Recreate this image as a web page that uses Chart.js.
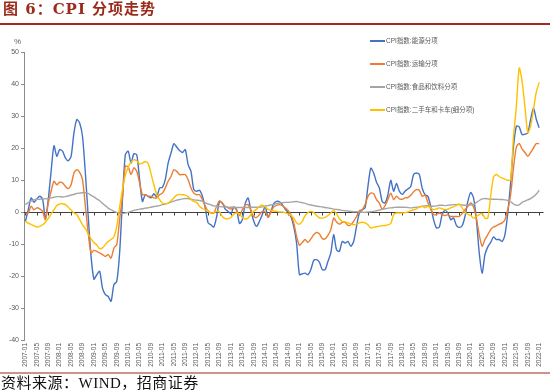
<!DOCTYPE html>
<html><head><meta charset="utf-8">
<script src="https://cdn.jsdelivr.net/npm/chart.js@4.4.0/dist/chart.umd.min.js"></script>
<style>
body{margin:0;width:550px;height:392px;background:#fff;position:relative;overflow:hidden;font-family:"Noto Sans CJK SC",sans-serif}
canvas{position:absolute;left:0;top:0}
#title{position:absolute;left:3px;top:0px;font-size:15px;line-height:19px;font-weight:bold;color:#9b2c1c;letter-spacing:1px;font-family:"DejaVu Serif","Noto Sans CJK SC",serif;white-space:nowrap;z-index:2}
#tline{position:absolute;left:0;top:23px;width:550px;height:2px;background:#a02a1e;z-index:2}
#bline{position:absolute;left:0;top:372px;width:550px;height:2px;background:#cf9090;z-index:2}
#src{position:absolute;left:1px;top:374px;font-size:15px;line-height:18px;color:#111;letter-spacing:0.5px;font-family:"Liberation Serif","Noto Sans CJK SC",serif;white-space:nowrap;z-index:2}
#pct{position:absolute;left:14px;top:37px;font-size:8px;color:#595959;font-family:"Liberation Sans",sans-serif;z-index:2}
#legend{position:absolute;left:370px;top:36px;z-index:2}
.li{position:relative;height:23px;line-height:10px;font-size:6.5px;color:#595959;font-family:"Liberation Sans","Noto Sans CJK SC",sans-serif;white-space:nowrap}
.li span.sw{display:inline-block;width:15px;height:0;border-top:2px solid;vertical-align:middle;margin-right:1px}
</style></head>
<body>
<div id="title">图 6：CPI 分项走势</div>
<div id="tline"></div>
<div id="pct">%</div>
<div id="legend"></div>
<canvas id="c" width="550" height="392"></canvas>
<div id="bline"></div>
<div id="src">资料来源：WIND，招商证券</div>
<script>
// ---- categories (monthly, 2007-01 .. 2022-01) ----
const START_YEAR = 2007, END_YEAR = 2022, END_MONTH = 1;
const MONTHS = [];
for (let y = START_YEAR; y <= END_YEAR; y++) {
  for (let m = 1; m <= 12; m++) {
    if (y === END_YEAR && m > END_MONTH) break;
    MONTHS.push(y + '-' + String(m).padStart(2, '0'));
  }
}
const SERIES_NAMES = ['CPI指数:能源分项', 'CPI指数:运输分项', 'CPI指数:食品和饮料分项', 'CPI指数:二手车和卡车(细分项)'];
const SERIES_COLORS = ['#4472C4', '#ED7D31', '#A5A5A5', '#FFC000'];
const Y_TICKS = [-40, -30, -20, -10, 0, 10, 20, 30, 40, 50];

// ---- series values (%, YoY) one row per year ----
const ENERGY = [
  -2.9, 0.7, 4.4, 3.0, 4.1, 4.9, 4.1, -2.2, 3.9, 12.7, 20.7, 17.4,
  19.5, 19.0, 16.9, 16.0, 17.4, 24.7, 28.9, 27.8, 23.6, 12.2, -1.4, -13.9,
  -21.0, -19.6, -18.5, -23.8, -25.8, -26.4, -27.9, -22.7, -21.7, -12.8, 3.9, 17.9,
  19.0, 15.3, 18.2, 17.9, 10.1, 3.3, 5.4, 4.9, 4.4, 5.7, 4.7, 7.5,
  7.7, 10.1, 15.3, 18.4, 21.3, 20.3, 19.2, 18.6, 19.5, 14.8, 12.7, 7.0,
  6.5, 6.8, 4.9, 1.3, -3.4, -4.0, -4.7, -1.4, 3.3, 2.8, 0.9, 0.2,
  -0.6, 1.6, 0.7, -3.6, -2.4, 2.6, 4.4, 0.5, -2.9, -4.5, -2.9, -0.8,
  1.8, -1.6, 0.2, 2.6, 3.3, 3.2, 2.3, 0.9, -0.1, -1.4, -4.5, -9.7,
  -19.6, -19.3, -19.1, -19.6, -18.0, -15.1, -14.9, -15.7, -18.0, -18.0, -15.4, -12.8,
  -7.1, -11.8, -12.3, -9.2, -9.7, -9.2, -10.7, -9.2, -4.5, -0.3, 0.7, 1.3,
  8.0, 13.7, 12.2, 9.3, 7.5, 3.3, 2.8, 5.4, 9.9, 6.5, 8.9, 6.5,
  5.5, 6.5, 7.2, 8.0, 11.7, 12.2, 11.7, 7.5, 5.4, 4.9, 1.8, -2.4,
  -5.0, -4.7, -0.8, 0.5, -0.3, -2.4, -1.9, -4.2, -4.8, -4.3, -1.4, 3.3,
  6.1, 4.4, -2.4, -12.8, -19.1, -13.3, -10.9, -9.5, -7.8, -8.6, -8.6, -9.2,
  -7.1, -0.3, 9.1, 20.5, 26.8, 26.6, 24.2, 24.3, 24.7, 28.9, 32.5, 28.9,
  26.3
];
const TRANSPORT = [
  -0.5, -0.3, 1.8, 0.7, 1.3, 1.0, 0.2, -2.4, 2.8, 6.5, 9.6, 8.5,
  9.3, 9.1, 8.0, 7.3, 8.5, 12.2, 13.2, 12.4, 10.1, 1.8, -6.6, -12.8,
  -12.0, -12.3, -12.8, -13.3, -13.9, -13.3, -14.4, -11.3, -10.2, -2.4, 4.9, 14.3,
  14.1, 11.7, 13.8, 12.7, 9.1, 5.4, 5.4, 4.9, 4.9, 4.4, 4.4, 5.4,
  5.9, 7.5, 9.6, 11.1, 13.2, 12.7, 11.7, 11.7, 11.7, 10.1, 7.5, 5.9,
  5.4, 5.4, 3.9, 1.8, 0.2, -0.3, -0.3, 1.8, 3.5, 2.6, 1.8, 1.3,
  0.9, 1.6, 0.5, -1.1, 0.7, 2.1, 2.3, 0.5, -1.4, -1.7, -0.8, 0.2,
  0.0, -1.7, -0.1, 1.6, 2.1, 2.3, 2.0, 1.3, 0.5, -0.8, -3.4, -7.6,
  -10.4, -9.5, -8.6, -9.5, -8.4, -7.1, -6.4, -6.8, -8.3, -8.4, -7.3, -5.5,
  -1.9, -3.1, -3.8, -3.2, -3.2, -4.2, -4.0, -2.9, -1.4, 0.4, 0.7, 2.3,
  4.9, 5.9, 5.7, 3.9, 2.8, 0.9, 2.0, 3.9, 5.9, 3.9, 4.9, 4.1,
  4.0, 4.4, 4.5, 5.2, 6.3, 7.0, 6.8, 4.9, 5.3, 3.0, 0.9, -0.8,
  -0.8, -0.3, -0.8, -1.1, -0.9, -1.4, -1.4, -1.4, -1.4, -0.5, 0.7, 1.8,
  2.8, 1.6, -1.9, -7.1, -10.7, -8.6, -7.1, -5.5, -4.7, -4.3, -3.8, -3.4,
  -2.4, 0.7, 5.4, 13.8, 20.3, 21.4, 19.7, 18.6, 17.4, 18.6, 20.0, 21.4,
  21.3
];
const FOOD = [
  2.3, 2.9, 3.4, 3.8, 4.0, 4.0, 4.1, 4.1, 4.2, 4.4, 4.6, 4.8,
  4.8, 4.7, 4.8, 5.0, 5.3, 5.5, 5.8, 5.9, 6.0, 6.0, 5.8, 5.2,
  4.7, 4.1, 3.5, 2.7, 2.0, 1.2, 0.7, 0.2, -0.1, -0.4, -0.5, -0.3,
  -0.1, 0.2, 0.5, 0.7, 0.9, 1.0, 1.2, 1.3, 1.5, 1.7, 1.8, 2.0,
  2.3, 2.5, 2.8, 3.1, 3.4, 3.7, 3.9, 4.1, 4.2, 4.2, 4.0, 3.8,
  3.7, 3.6, 3.3, 2.9, 2.5, 2.2, 1.9, 1.8, 1.7, 1.6, 1.6, 1.5,
  1.5, 1.5, 1.4, 1.4, 1.4, 1.4, 1.4, 1.5, 1.5, 1.5, 1.5, 1.6,
  1.8, 2.0, 2.2, 2.4, 2.6, 2.8, 2.9, 3.0, 3.0, 3.1, 3.2, 3.3,
  3.1, 2.9, 2.7, 2.4, 2.2, 2.0, 1.8, 1.7, 1.6, 1.4, 1.3, 1.1,
  0.9, 0.8, 0.7, 0.5, 0.4, 0.3, 0.2, 0.1, 0.1, 0.0, -0.1, -0.1,
  0.0, 0.1, 0.2, 0.4, 0.6, 0.8, 1.0, 1.2, 1.3, 1.4, 1.5, 1.5,
  1.5, 1.5, 1.4, 1.3, 1.4, 1.5, 1.6, 1.8, 1.9, 2.0, 1.9, 1.8,
  1.9, 2.1, 2.1, 2.0, 2.1, 2.2, 2.3, 2.3, 2.3, 2.2, 2.1, 2.1,
  2.2, 2.3, 3.0, 3.6, 4.1, 4.2, 4.1, 4.0, 4.0, 4.0, 3.9, 3.9,
  3.8, 3.6, 3.2, 2.5, 2.1, 2.2, 3.0, 3.4, 3.8, 4.2, 4.8, 5.6,
  6.8
];
const USED_CARS = [
  -2.9, -3.5, -3.9, -4.3, -4.7, -4.5, -4.0, -3.2, -2.0, -0.6, 0.7, 2.0,
  2.5, 2.6, 2.3, 1.5, 0.6, -0.3, -0.8, -2.4, -4.0, -5.2, -6.8, -8.4,
  -9.5, -10.3, -11.5, -11.2, -10.2, -9.2, -8.6, -7.8, -4.5, 1.5, 7.0, 11.5,
  14.0, 15.6, 16.3, 16.0, 15.0, 15.3, 15.8, 15.2, 12.0, 8.5, 5.5, 3.9,
  2.8, 2.6, 2.8, 3.5, 4.4, 5.3, 5.5, 5.4, 5.3, 4.8, 3.9, 3.3,
  3.0, 1.8, 1.1, 0.7, 0.4, -0.3, -0.2, 0.2, 0.0, -1.4, -2.1, -2.1,
  -1.7, -0.7, -0.3, -0.7, -1.7, -2.2, -1.9, -0.8, 0.2, 0.9, 1.8, 2.1,
  1.6, 0.8, 0.6, 0.3, 0.2, 0.0, 0.0, -0.2, -0.6, -1.0, -1.9, -3.4,
  -3.8, -2.9, -1.1, -0.2, 0.2, -0.2, -1.1, -1.8, -1.9, -1.7, -1.1, -0.3,
  0.5, -0.5, -2.1, -2.9, -3.1, -3.4, -3.8, -4.0, -3.8, -3.4, -3.2, -3.4,
  -4.0, -5.0, -4.8, -4.6, -4.4, -4.3, -4.2, -4.0, -3.6, -0.8, -0.3, -0.3,
  -0.3, -0.2, 0.0, 0.4, 0.7, 1.0, 1.5, 1.8, 1.3, 1.8, 1.3, 0.7,
  1.0, 1.3, 1.0, 0.7, 0.9, 1.3, 1.6, 2.1, 2.5, 1.3, -0.1, -0.7,
  -1.1, -1.9, -1.4, -0.8, -0.5, -1.9, -1.9, 4.9, 10.9, 11.7, 11.1, 10.6,
  10.3, 9.9, 10.1, 23.6, 33.0, 45.0, 41.0, 33.0, 24.8, 26.8, 32.0, 37.5,
  40.5
];
const SERIES = [ENERGY, TRANSPORT, FOOD, USED_CARS];
const LABEL_EVERY = 4;

// HTML legend built from the series names/colours
const lg = document.getElementById('legend');
SERIES_NAMES.forEach((n, i) => {
  const d = document.createElement('div');
  d.className = 'li';
  d.innerHTML = '<span class="sw" style="border-top-color:' + SERIES_COLORS[i] + '"></span>' + n;
  lg.appendChild(d);
});

const zeroLine = {
  id: 'zeroLine',
  beforeDatasetsDraw(chart) {
    const {ctx, chartArea, scales} = chart;
    const y0 = Math.round(scales.y.getPixelForValue(0)) + 0.5;
    ctx.save();
    ctx.strokeStyle = '#404040';
    ctx.lineWidth = 1;
    ctx.beginPath();
    ctx.moveTo(chartArea.left, y0);
    ctx.lineTo(chartArea.right + 3, y0);
    for (let i = 0; i < MONTHS.length; i += LABEL_EVERY) {
      const x = Math.round(scales.x.getPixelForValue(i)) + 0.5;
      ctx.moveTo(x, y0);
      ctx.lineTo(x, y0 + 3);
    }
    ctx.stroke();
    ctx.restore();
  }
};

new Chart(document.getElementById('c'), {
  type: 'line',
  data: {
    labels: MONTHS,
    datasets: SERIES.map((s, i) => ({
      label: SERIES_NAMES[i],
      data: s,
      borderColor: SERIES_COLORS[i],
      backgroundColor: SERIES_COLORS[i],
      borderWidth: 1.4,
      pointRadius: 0,
      tension: 0.25,
      fill: false,
      order: SERIES.length - 1 - i
    }))
  },
  options: {
    responsive: false,
    animation: false,
    devicePixelRatio: 1,
    layout: {padding: {left: 0, top: 52, right: 6, bottom: 0}},
    plugins: {legend: {display: false}, tooltip: {enabled: false}},
    scales: {
      x: {
        type: 'category',
        offset: true,
        grid: {display: false, drawTicks: false},
        border: {display: false},
        ticks: {
          autoSkip: false,
          minRotation: 90,
          maxRotation: 90,
          padding: 3,
          color: '#595959',
          font: {family: 'Liberation Sans', size: 6.5},
          callback: (v, i) => (i % LABEL_EVERY === 0 ? MONTHS[i] : '')
        },
        afterFit: s => { s.height = 52; }
      },
      y: {
        min: Y_TICKS[0],
        max: Y_TICKS[Y_TICKS.length - 1],
        afterBuildTicks: s => { s.ticks = Y_TICKS.map(v => ({value: v})); },
        grid: {drawOnChartArea: false, drawTicks: true, tickLength: 3, color: '#8c8c8c'},
        border: {display: true, color: '#8c8c8c', width: 1},
        ticks: {padding: 2, color: '#595959', font: {family: 'Liberation Sans', size: 7}},
        afterFit: s => { s.width = 24; }
      }
    }
  },
  plugins: [zeroLine]
});
</script>
</body></html>
